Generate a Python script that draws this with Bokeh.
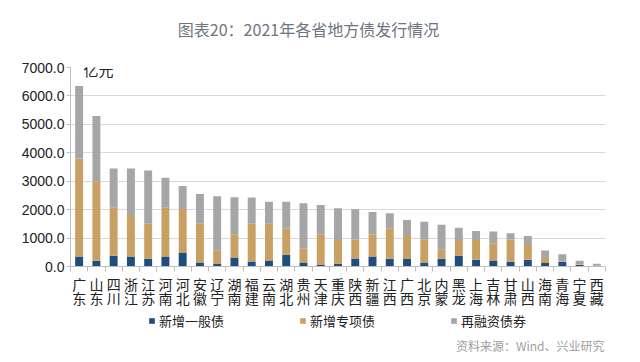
from bokeh.plotting import figure
from bokeh.layouts import column
from bokeh.models import (ColumnDataSource, Legend, LegendItem, Label,
                          Range1d, FixedTicker, NumeralTickFormatter)
from bokeh.embed import file_html
from bokeh.resources import INLINE

provinces = ["广东", "山东", "四川", "浙江", "江苏", "河南", "河北", "安徽", "辽宁", "湖南",
             "福建", "云南", "湖北", "贵州", "天津", "重庆", "陕西", "新疆", "江西", "广西",
             "北京", "内蒙", "黑龙", "上海", "吉林", "甘肃", "山西", "海南", "青海", "宁夏", "西藏"]
general = [350, 200, 375, 350, 270, 350, 490, 140, 85, 315, 175, 210, 410, 140, 50, 95,
           280, 350, 270, 260, 140, 270, 375, 235, 210, 165, 235, 120, 160, 55, 15]
special = [3450, 2800, 1695, 1465, 1230, 1720, 1535, 1380, 465, 820, 1325, 1290, 925, 505, 1085, 840,
           680, 785, 1075, 815, 820, 315, 560, 700, 610, 795, 560, 175, 20, 15, 10]
refinance = [2550, 2290, 1380, 1635, 1880, 1050, 810, 1030, 1920, 1300, 930, 780, 945, 1580, 1030, 1110,
             1055, 785, 525, 560, 610, 880, 430, 315, 410, 210, 280, 265, 255, 130, 70]
series_names = ["新增一般债", "新增专项债", "再融资债券"]
y_ticks = [0, 1000, 2000, 3000, 4000, 5000, 6000, 7000]

colors = ["#1f4e7c", "#c8a064", "#a6a6a6"]
CJK = "Noto Sans CJK SC"
W = 624


def blank(height):
    f = figure(width=W, height=height, x_range=Range1d(0, 1), y_range=Range1d(0, 1),
               output_backend="svg", toolbar_location=None, title_location=None,
               x_axis_location=None, y_axis_location=None,
               min_border_left=0, min_border_right=0, min_border_top=0, min_border_bottom=0)
    f.outline_line_color = None
    f.xgrid.visible = False
    f.ygrid.visible = False
    return f


# ---- title strip (frames of a column are aligned with the chart's frame)
pt = blank(47)
pt.add_layout(Label(x=238, y=19, x_units="screen", y_units="screen",
                    text="图表20：2021年各省地方债发行情况", text_align="center",
                    text_baseline="middle", text_font=CJK, text_font_size="16px",
                    text_color="#6f7580"))

# ---- main chart
n = len(provinces)
pos = [i + 0.5 for i in range(n)]          # category centres on the index scale
bounds = list(range(n + 1))                # category boundaries

src = ColumnDataSource(dict(pos=pos, province=provinces, general=general,
                            special=special, refinance=refinance))

p = figure(width=W, height=263, x_range=Range1d(0, n), y_range=Range1d(0, 7000),
           output_backend="svg", toolbar_location=None, title_location=None,
           min_border_left=70, min_border_right=19, min_border_top=20, min_border_bottom=43)
p.outline_line_color = None

rs = p.vbar_stack(["general", "special", "refinance"], x="pos", width=0.46,
                  color=colors, line_color=None, source=src)

yax = p.yaxis[0]
yax.ticker = FixedTicker(ticks=y_ticks)
yax.formatter = NumeralTickFormatter(format="0.0")
yax.major_label_text_font = "Liberation Sans"
yax.major_label_text_font_size = "14px"
yax.major_label_text_color = "#222222"
yax.axis_line_color = "#bfbfbf"
yax.major_tick_line_color = "#bfbfbf"
yax.major_tick_out = 4
yax.major_tick_in = 0
yax.minor_tick_line_color = None
yax.major_label_standoff = 2

p.ygrid.ticker = FixedTicker(ticks=y_ticks)
p.ygrid.grid_line_color = "#d9d9d9"
p.xgrid.grid_line_color = None

xax = p.xaxis[0]
xax.ticker = FixedTicker(ticks=pos, minor_ticks=bounds)
xax.major_label_overrides = {c: pr[0] + "\n" + pr[1] for c, pr in zip(pos, provinces)}
xax.major_label_text_font = CJK
xax.major_label_text_font_size = "14px"
xax.major_label_text_line_height = 0.71
xax.major_label_text_color = "#222222"
xax.major_label_standoff = 2
xax.major_tick_out = 0
xax.major_tick_in = 0
xax.minor_tick_out = 5
xax.minor_tick_in = 0
xax.minor_tick_line_color = "#bfbfbf"
xax.axis_line_color = "#bfbfbf"
xax.major_label_orientation = "horizontal"

p.add_layout(Label(x=13, y=197, x_units="screen", y_units="screen", text="亿元",
                   text_font=CJK, text_font_size="15px", text_color="#222222",
                   text_baseline="middle"))

# ---- legend + source strip (legend keys only, nothing drawn: NaN positions)
pl = blank(44)
nan = float("nan")
keys = [pl.vbar(x=[nan], top=[nan], width=0.5, color=c, line_color=None) for c in colors]
legend = Legend(items=[LegendItem(label=series_names[i], renderers=[keys[i]]) for i in range(3)],
                orientation="horizontal", location=(78, 24), nrows=1,
                border_line_color=None, background_fill_alpha=0,
                glyph_width=7, glyph_height=7, label_standoff=4, spacing=75,
                padding=0, margin=0, label_text_font=CJK, label_text_font_size="13px",
                label_text_color="#222222")
pl.add_layout(legend, "center")
pl.add_layout(Label(x=534, y=9, x_units="screen", y_units="screen",
                    text="资料来源：Wind、兴业研究", text_align="right",
                    text_baseline="middle", text_font=CJK, text_font_size="12px",
                    text_color="#a0a0a0"))

layout = column(pt, p, pl, spacing=0)
open("out.html", "w").write(file_html(layout, INLINE))
